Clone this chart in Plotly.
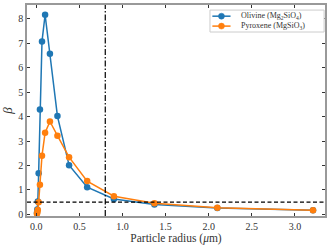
import plotly.graph_objects as go

# Particle radius (micron)
radius = [0.0073, 0.0113, 0.0175, 0.027, 0.042, 0.066, 0.102, 0.158,
          0.245, 0.38, 0.59, 0.90, 1.37, 2.10, 3.21]
beta_olivine = [0.05, 0.20, 0.52, 1.68, 4.29, 7.08, 8.17, 6.57,
                4.02, 2.01, 1.11, 0.63, 0.40, 0.26, 0.17]
beta_pyroxene = [0.02, 0.08, 0.18, 0.49, 1.21, 2.40, 3.34, 3.80,
                 3.22, 2.34, 1.36, 0.74, 0.45, 0.27, 0.17]

series_names = ["Olivine (Mg<sub>2</sub>SiO<sub>4</sub>)",
                "Pyroxene (MgSiO<sub>3</sub>)"]

beta_threshold = 0.5
radius_cut = 0.8

x_ticks = [0.0, 0.5, 1.0, 1.5, 2.0, 2.5, 3.0]
y_ticks = [0, 1, 2, 3, 4, 5, 6, 7, 8]

FONT = "Liberation Serif, DejaVu Serif, serif"
COLORS = ["#1f77b4", "#ff7f0e"]
TXT = "#333333"

fig = go.Figure()
for name, ys, col in zip(series_names, [beta_olivine, beta_pyroxene], COLORS):
    fig.add_trace(go.Scatter(
        x=radius, y=ys, mode="lines+markers", name=name, showlegend=False,
        line=dict(color=col, width=1.5),
        marker=dict(color=col, size=6.5),
    ))

fig.add_shape(type="line", xref="paper", yref="y", x0=0, x1=1,
              y0=beta_threshold, y1=beta_threshold,
              line=dict(color="black", width=1.3, dash="4px,2.5px"))
fig.add_shape(type="line", xref="x", yref="paper", x0=radius_cut, x1=radius_cut,
              y0=0, y1=1,
              line=dict(color="black", width=1.2, dash="6px,2px,1.5px,2px"))

# Legend (drawn manually to get matplotlib-like compact layout)
lg_x0, lg_x1, lg_y0, lg_y1 = 0.614, 0.997, 0.872, 0.976
fig.add_shape(type="rect", xref="paper", yref="paper",
              x0=lg_x0, x1=lg_x1, y0=lg_y0, y1=lg_y1,
              line=dict(color="#cccccc", width=1), fillcolor="white",
              layer="above")
row_y = [0.947, 0.900]
for name, col, ry in zip(series_names, COLORS, row_y):
    fig.add_shape(type="line", xref="paper", yref="paper",
                  x0=0.622, x1=0.683, y0=ry, y1=ry,
                  line=dict(color=col, width=1.5), layer="above")
    fig.add_shape(type="circle", xref="paper", yref="paper",
                  xsizemode="pixel", ysizemode="pixel",
                  xanchor=0.6525, yanchor=ry,
                  x0=-3, x1=3, y0=-3, y1=3,
                  line=dict(color=col, width=0.5), fillcolor=col, layer="above")
    fig.add_annotation(xref="paper", yref="paper", x=0.712, y=ry,
                       xanchor="left", yanchor="middle", showarrow=False,
                       text=name, font=dict(family=FONT, size=8, color=TXT))

axis_common = dict(
    showline=True, linecolor="#999999", linewidth=1.6, mirror="ticks",
    ticks="inside", ticklen=3.5, tickwidth=0.8, tickcolor="#333333",
    showgrid=False, zeroline=False, automargin=False,
    tickfont=dict(family=FONT, size=10, color=TXT),
)

fig.update_layout(
    width=330, height=246,
    margin=dict(l=27, r=5, t=5, b=29.5),
    paper_bgcolor="white", plot_bgcolor="white",
    font=dict(family=FONT, color=TXT),
    showlegend=False,
    xaxis=dict(range=[-0.108, 3.349], tickvals=x_ticks,
               ticktext=[f"{v:.1f}" for v in x_ticks],
               title=dict(text="Particle radius (<i>μ</i>m)", standoff=0,
                          font=dict(family=FONT, size=11.5, color=TXT)),
               **axis_common),
    yaxis=dict(range=[-0.07, 8.57], tickvals=y_ticks,
               title=dict(text="<i>β</i>", standoff=4,
                          font=dict(family=FONT, size=13, color=TXT)),
               **axis_common),
)

fig.write_html("out.html",
               config={"displayModeBar": False},
               post_script="document.body.style.margin='0';"
                           "document.body.style.overflow='hidden';")
